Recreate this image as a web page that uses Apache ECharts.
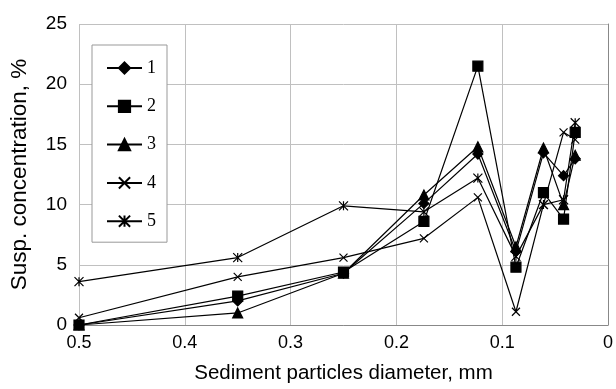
<!DOCTYPE html>
<html>
<head>
<meta charset="utf-8">
<script src="https://cdn.jsdelivr.net/npm/echarts@6/dist/echarts.min.js"></script>
<style>
  html, body { margin: 0; padding: 0; background: #fff; }
  #chart { width: 616px; height: 389px; }
</style>
</head>
<body>
<div id="chart"></div>
<script>
// particle diameter, mm
var diameters = [0.5, 0.35, 0.25, 0.174, 0.123, 0.087, 0.061, 0.042, 0.031];
// suspended concentration, %
var series1 = [0, 2.0, 4.3, 10.1, 14.2, 6.1, 14.3, 12.4, 13.8];
var series2 = [0, 2.4, 4.4, 8.6, 21.5, 4.8, 11.0, 8.8, 16.0];
var series3 = [0, 1.0, 4.3, 10.8, 14.8, 6.5, 14.7, 10.0, 14.1];
var series4 = [0.6, 4.0, 5.6, 7.2, 10.6, 1.1, 10.0, 16.0, 15.4];
var series5 = [3.6, 5.6, 9.9, 9.4, 12.2, 5.7, 10.0, 10.4, 16.8];
var seriesNames = ['1', '2', '3', '4', '5'];

function pairs(vals) {
  return diameters.map(function (d, i) { return [d, vals[i]]; });
}

var xMark = 'path://M0,0L10,10M10,0L0,10';
var starMark = 'path://M0,0L10,10M10,0L0,10M5,0L5,10';

function mk(name, vals, symbol, size) {
  return {
    name: name,
    type: 'line',
    data: pairs(vals),
    symbol: symbol,
    symbolSize: size,
    showAllSymbol: true,
    clip: false,
    lineStyle: { color: '#000', width: 1.2 },
    itemStyle: { color: '#000', borderColor: '#000', borderWidth: 1.2 },
    emphasis: { disabled: true },
    animation: false
  };
}

var chart = echarts.init(document.getElementById('chart'));
chart.setOption({
  backgroundColor: '#fff',
  animation: false,
  textStyle: { fontFamily: 'Liberation Sans, Arial, sans-serif' },
  grid: { left: 77, right: 3, top: 24, bottom: 62 },
  legend: {
    orient: 'vertical',
    left: 92,
    top: 45,
    backgroundColor: '#fff',
    borderColor: '#999',
    borderWidth: 1,
    borderRadius: 0,
    padding: [14, 11, 12, 14],
    itemWidth: 35,
    itemHeight: 14,
    itemGap: 20.3,
    data: seriesNames,
    textStyle: { fontFamily: 'Liberation Serif, Times New Roman, serif', fontSize: 18, color: '#000' }
  },
  xAxis: {
    type: 'value',
    inverse: true,
    min: 0,
    max: 0.5,
    interval: 0.1,
    name: 'Sediment particles diameter, mm',
    nameLocation: 'middle',
    nameGap: 38,
    nameTextStyle: { fontSize: 20.5, color: '#000' },
    axisLine: { lineStyle: { color: '#888' } },
    axisTick: { show: false },
    axisLabel: { fontSize: 18, color: '#000', margin: 9 },
    splitLine: { show: true, lineStyle: { color: '#c0c0c0' } }
  },
  yAxis: {
    type: 'value',
    min: 0,
    max: 25,
    interval: 5,
    name: 'Susp. concentration, %',
    nameLocation: 'middle',
    nameGap: 48,
    nameTextStyle: { fontSize: 22.5, color: '#000' },
    axisLine: { show: true, lineStyle: { color: '#888' } },
    axisTick: { show: false },
    axisLabel: { fontSize: 19, color: '#000', margin: 12 },
    splitLine: { show: true, lineStyle: { color: '#c0c0c0' } }
  },
  series: [
    mk('1', series1, 'diamond', 10),
    mk('2', series2, 'rect', 10),
    mk('3', series3, 'triangle', 10),
    mk('4', series4, xMark, 8),
    mk('5', series5, starMark, 9)
  ]
});
</script>
</body>
</html>
